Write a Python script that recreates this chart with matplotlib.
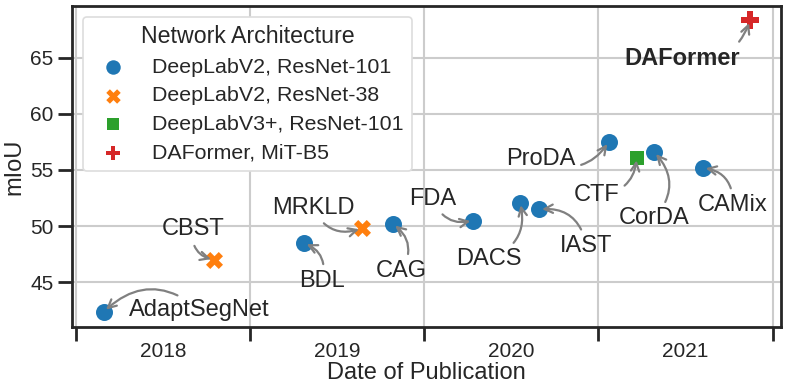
import matplotlib
matplotlib.use("Agg")
import matplotlib.pyplot as plt
from matplotlib.ticker import FixedLocator, NullFormatter, FixedFormatter

# data
methods = ["AdaptSegNet", "CBST", "BDL", "MRKLD", "CAG", "FDA", "DACS", "IAST",
           "ProDA", "CTF", "CorDA", "CAMix", "DAFormer"]
dates = [2018.16, 2018.79, 2019.31, 2019.64, 2019.82, 2020.28, 2020.55, 2020.66,
         2021.06, 2021.22, 2021.32, 2021.60, 2021.87]
miou = [42.4, 47.0, 48.5, 49.8, 50.2, 50.5, 52.1, 51.5, 57.5, 56.1, 56.6, 55.2, 68.3]
arch = [0, 1, 0, 1, 0, 0, 0, 0, 0, 2, 0, 0, 3]
arch_names = ["DeepLabV2, ResNet-101", "DeepLabV2, ResNet-38",
              "DeepLabV3+, ResNet-101", "DAFormer, MiT-B5"]
years = [2018, 2019, 2020, 2021]

# label placement (data coords)
label_x = [2018.71, 2018.67, 2019.41, 2019.36, 2019.87, 2020.05, 2020.37, 2020.93,
           2020.67, 2020.99, 2021.32, 2021.77, 2021.48]
label_y = [42.5, 49.7, 45.15, 51.65, 46.05, 52.45, 47.1, 48.25, 56.0, 52.8, 50.7, 51.9, 64.95]

colors = ["#1f77b4", "#ff7f0e", "#2ca02c", "#d62728"]
markers = ["o", "X", "s", "P"]
sizes = [150, 150, 90, 150]

plt.rcParams["font.family"] = ["Liberation Sans", "DejaVu Sans"]
plt.rcParams["text.color"] = "#262626"
plt.rcParams["axes.labelcolor"] = "#262626"
plt.rcParams["xtick.color"] = "#262626"
plt.rcParams["ytick.color"] = "#262626"

fig = plt.figure(figsize=(7.89, 3.9), dpi=100)
ax = fig.add_axes([0.0913, 0.162, 0.899, 0.823])

for k in range(len(arch_names)):
    xs = [d for d, a in zip(dates, arch) if a == k]
    ys = [m for m, a in zip(miou, arch) if a == k]
    ax.scatter(xs, ys, s=sizes[k], c=colors[k], marker=markers[k],
               linewidths=0, label=arch_names[k], zorder=3)

for i, name in enumerate(methods):
    ax.annotate(name, xy=(dates[i], miou[i]), xytext=(label_x[i], label_y[i]),
                ha="center", va="center", fontsize=17,
                fontweight="bold" if name == "DAFormer" else "normal",
                arrowprops=dict(arrowstyle="->", color="gray", lw=1.6,
                                connectionstyle="arc3,rad=0.45",
                                shrinkA=2, shrinkB=2, mutation_scale=15),
                zorder=4)

ax.set_xlim(2017.977, 2022.05)
ax.set_ylim(41.04, 69.6)
ax.set_yticks([45, 50, 55, 60, 65])
ax.xaxis.set_major_locator(FixedLocator([2018, 2019, 2020, 2021, 2022]))
ax.xaxis.set_major_formatter(NullFormatter())
ax.xaxis.set_minor_locator(FixedLocator([y + 0.5 for y in years]))
ax.xaxis.set_minor_formatter(FixedFormatter([str(y) for y in years]))
ax.tick_params(axis="x", which="minor", length=0, labelsize=15, pad=11)
ax.tick_params(axis="x", which="major", length=10, width=2)
ax.tick_params(axis="y", length=10, width=2, labelsize=15)

ax.grid(True, color="#cccccc", lw=1.5, zorder=0)
ax.set_axisbelow(True)
for sp in ax.spines.values():
    sp.set_linewidth(2)
    sp.set_color("#262626")

ax.set_xlabel("Date of Publication", fontsize=17, labelpad=1)
ax.set_ylabel("mIoU", fontsize=17, labelpad=3)

leg = ax.legend(title="Network Architecture", loc="upper left", fontsize=15.4,
                title_fontsize=16.7, borderaxespad=0.5, handletextpad=0.85,
                labelspacing=0.45, markerscale=0.85, framealpha=1,
                edgecolor="#dddddd")
leg.get_frame().set_linewidth(1.2)

fig.savefig("out.png", dpi=100)
